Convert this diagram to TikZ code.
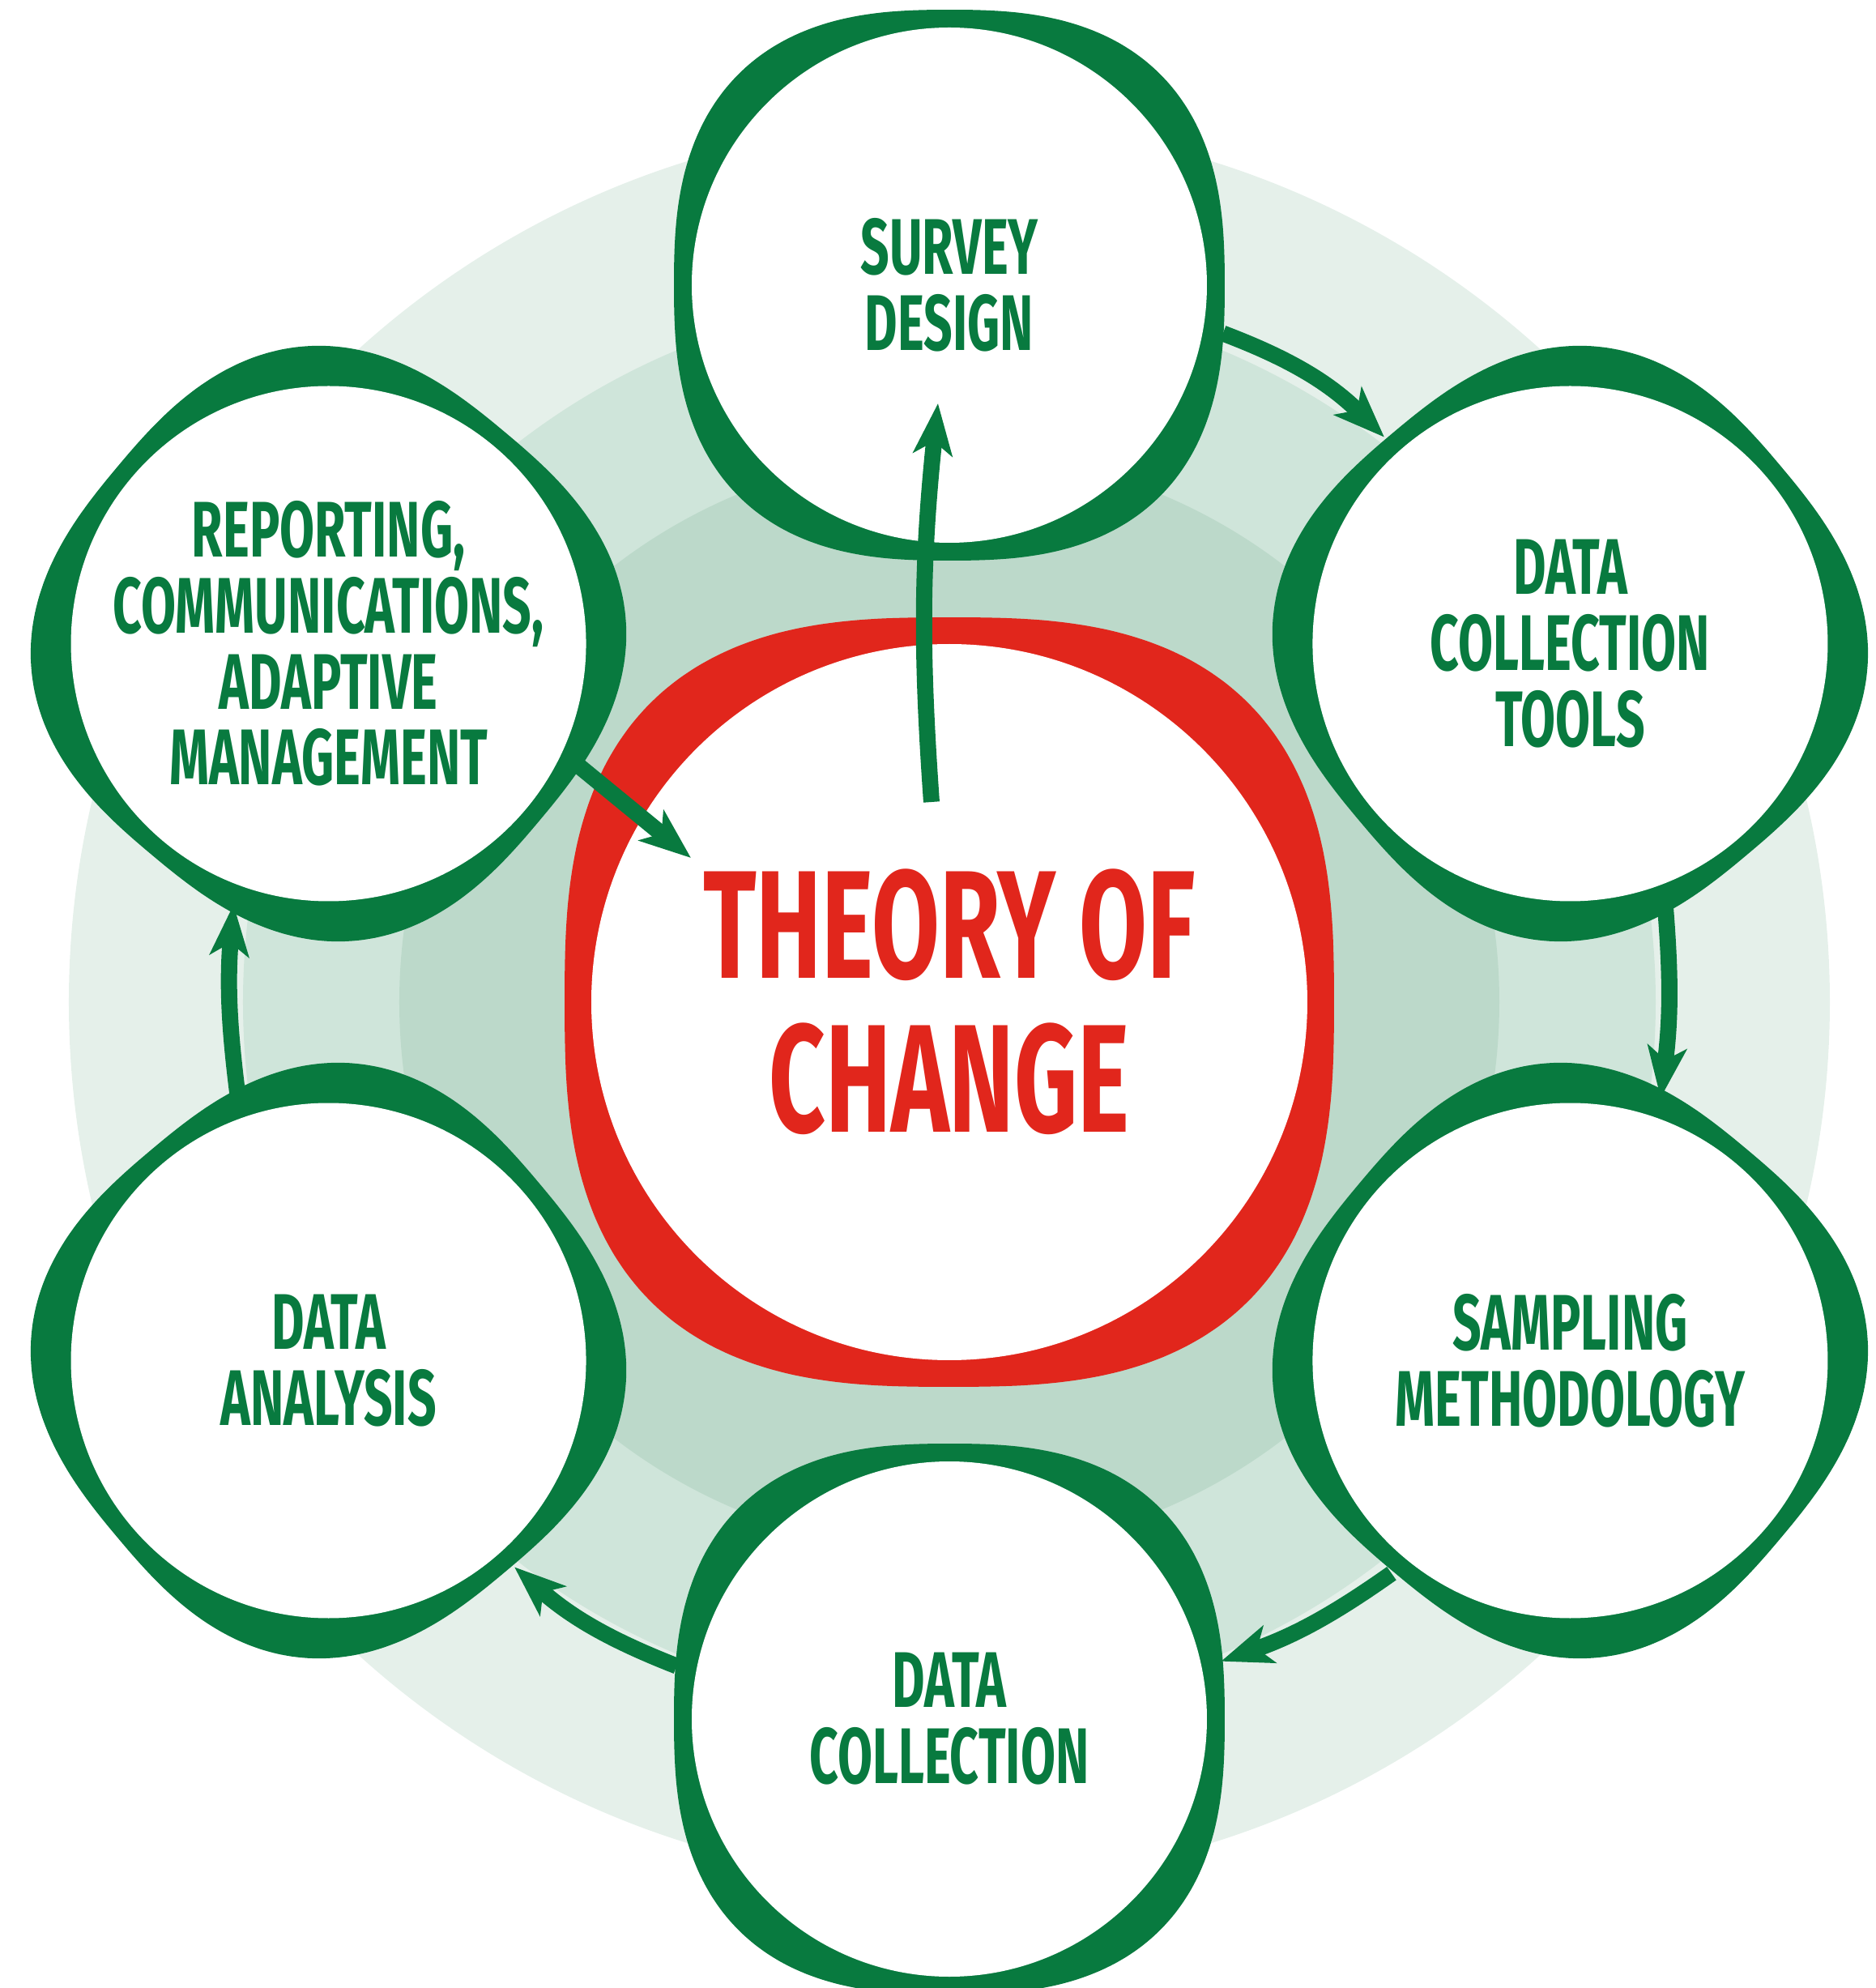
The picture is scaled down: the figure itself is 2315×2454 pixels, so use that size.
\documentclass[tikz,border=0pt]{standalone}
\usepackage{fontspec}
\setmainfont{Fira Sans}[FakeStretch=0.64]
\usetikzlibrary{arrows.meta}
\definecolor{tocgreen}{HTML}{087A3F}
\definecolor{tocred}{HTML}{E1261C}
\definecolor{ringa}{HTML}{E5F0EA}
\definecolor{ringb}{HTML}{CFE5DA}
\definecolor{ringc}{HTML}{BCD9CA}
\newcommand{\stagefont}{\bfseries\fontsize{27.7}{26.7}\selectfont}
\newcommand{\hubfont}{\bfseries\fontsize{54}{54}\selectfont}
\begin{document}
\begin{tikzpicture}[x=0.1mm, y=0.1mm,
    stage/.style={circle, fill=white, minimum size=63.6mm, inner sep=-6mm, outer sep=2.5mm,
      align=center, text=tocgreen, font=\stagefont},
    hub/.style={circle, fill=white, minimum size=88.4mm, inner sep=0pt,
      align=center, text=tocred, font=\hubfont},
    flow/.style={draw=tocgreen, line width=2mm, -{Stealth[length=6.3mm, width=4.8mm, inset=1.6mm]}}]
  \def\rr{885}
  \useasboundingbox (-1172,-1217) rectangle (1143,1237);
  % rings
  \fill[ringa] (0,0) circle (1087);
  \fill[ringb] (0,0) circle (872);
  \fill[ringc] (0,0) circle (679);
  % hub
  \fill[tocred] plot[domain=1:358, samples=120, smooth cycle]
    (\x:{475/((abs(cos(\x))^2.75+abs(sin(\x))^2.75)^(1/2.75))});
  \node[hub] (toc) at (0,0) {THEORY OF\\CHANGE};
  % blobs
  \foreach \ang/\rot in {90/0, 30/40, -30/-40, -90/0, 210/40, 150/-40}
    \fill[tocgreen, shift={(\ang:\rr)}, rotate=\rot]
      plot[domain=1:358, samples=120, smooth cycle]
      (\x:{340/((abs(cos(\x))^2.6+abs(sin(\x))^2.6)^(1/2.6))});
  % stages
  \node[stage] (sd) at (90:\rr) {SURVEY\\DESIGN};
  \node[stage] (tools) at (30:\rr) {DATA\\COLLECTION\\TOOLS};
  \node[stage] (samp) at (-30:\rr) {SAMPLING\\METHODOLOGY};
  \node[stage] (dc) at (-90:\rr) {DATA\\COLLECTION};
  \node[stage] (da) at (210:\rr) {DATA\\ANALYSIS};
  \node[stage] (rep) at (150:\rr) {REPORTING,\\COMMUNICATIONS,\\ADAPTIVE\\MANAGEMENT};
  % arrows
  \coordinate (hubout) at ([shift={(-22,247)}]toc.center);
  \coordinate (hubin) at ([shift={(-319,178)}]toc.center);
  \coordinate (sdin) at ([shift={(-14,-146)}]sd.center);
  \draw[flow] (sd.-10) to[bend left=12] (tools.132);
  \draw[flow] (tools.-70) to[bend left=6] (samp.71);
  \draw[flow] (samp.230) to[bend left=8] (dc.12);
  \draw[flow] (dc.169) to[bend left=10] (da.-48);
  \draw[flow] (da.109) to[bend left=6] (rep.250);
  \draw[flow] (rep.-26) -- (hubin);
  \draw[flow] (hubout) to[bend left=5] (sdin);
\end{tikzpicture}
\end{document}
